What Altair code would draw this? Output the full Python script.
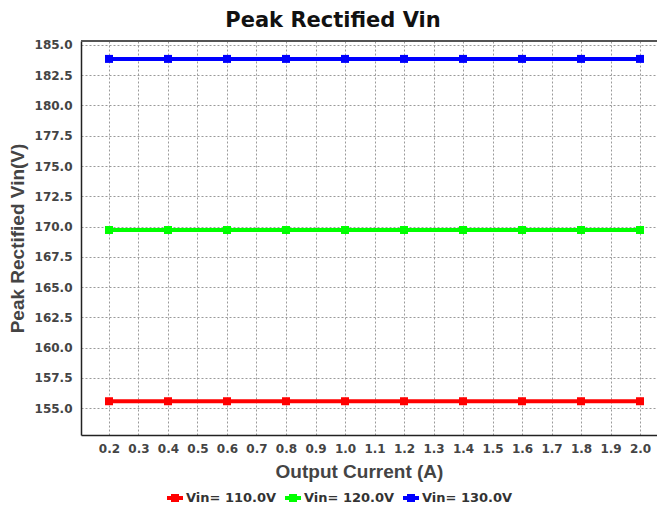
import altair as alt
import pandas as pd

currents = [0.2, 0.4, 0.6, 0.8, 1.0, 1.2, 1.4, 1.6, 1.8, 2.0]
vin110 = [155.56] * 10
vin120 = [169.71] * 10
vin130 = [183.85] * 10
series_names = ["Vin= 110.0V", "Vin= 120.0V", "Vin= 130.0V"]
series_colors = ["#ff0000", "#00ff00", "#0000ff"]
x_ticks = [round(0.2 + 0.1 * i, 1) for i in range(19)]
y_ticks = [155.0 + 2.5 * i for i in range(13)]

rows = []
for name, vals in zip(series_names, [vin110, vin120, vin130]):
    for c, v in zip(currents, vals):
        rows.append({"I": c, "V": v, "S": name})
df = pd.DataFrame(rows)

W, H = 576, 394

legend_path = "M-1,0L1,0M-0.25,-0.25L0.25,-0.25L0.25,0.25L-0.25,0.25Z"

lines = alt.Chart(df).mark_line(
    strokeWidth=4,
    point=alt.OverlayMarkDef(shape="square", size=64, filled=True, opacity=1),
).encode(
    x=alt.X("I:Q", scale=alt.Scale(domain=[0.1051, 2.0576], nice=False, zero=False),
            axis=alt.Axis(values=x_ticks, format=".1f", title="Output Current (A)",
                          titleX=278, titleY=27)),
    y=alt.Y("V:Q", scale=alt.Scale(domain=[152.77, 185.33], nice=False, zero=False),
            axis=alt.Axis(values=y_ticks, format=".1f", title="Peak Rectified Vin(V)",
                          titleX=-54, titleY=H / 2)),
    color=alt.Color("S:N", scale=alt.Scale(domain=series_names, range=series_colors),
                    legend=alt.Legend(title=None, orient="none", legendX=84, legendY=447,
                                      direction="horizontal", symbolType=legend_path,
                                      symbolSize=256, symbolStrokeWidth=4,
                                      columnPadding=0, labelOffset=1,
                                      labelFont="DejaVu Sans", labelFontSize=13,
                                      labelFontWeight="bold", labelColor="#333333")),
)

top_border = alt.Chart(df).mark_rule(color="#555555", strokeWidth=1).encode(
    x=alt.value(0), x2=alt.value(W), y=alt.value(0)
)

chart = alt.layer(lines, top_border).properties(
    width=W, height=H,
    autosize=alt.AutoSizeParams(type="none"),
    padding={"left": 73, "top": 33, "right": 0, "bottom": 70},
    title=alt.TitleParams("Peak Rectified Vin", font="DejaVu Sans", fontSize=21,
                          fontWeight="bold", color="#111111", anchor="middle",
                          dx=-36, offset=8),
).configure_view(stroke=None).configure_axis(
    grid=True, gridColor="#9a9a9a", gridDash=[2, 2], gridWidth=1,
    ticks=False, domainColor="#222222", domainWidth=1.5,
    labelFont="DejaVu Sans", labelFontSize=12, labelFontWeight="bold", labelColor="#444444",
    titleFont="Liberation Sans", titleFontSize=19, titleFontWeight="bold", titleColor="#444444",
).configure_axisX(labelPadding=8).configure_axisY(labelPadding=9)

chart.save("out.html", embed_options={"renderer": "svg", "actions": False})
